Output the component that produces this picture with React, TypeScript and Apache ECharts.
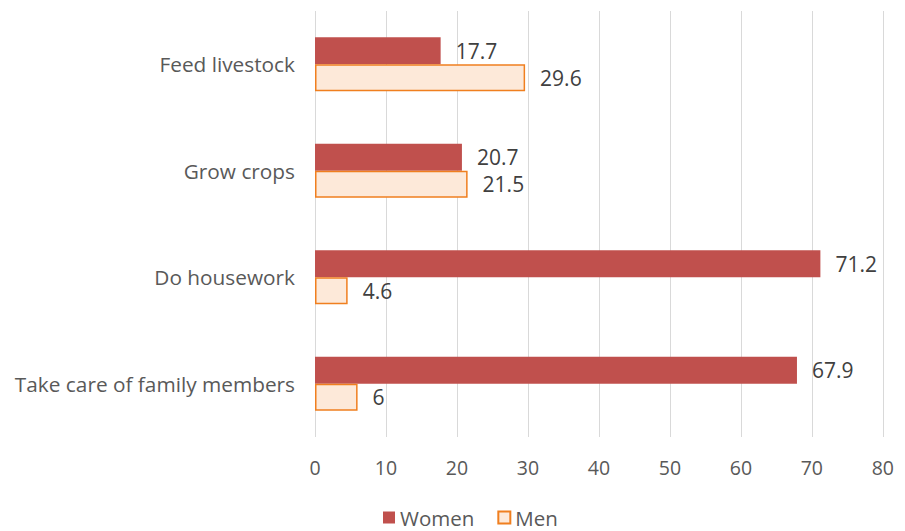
import React, { useEffect, useRef } from "react";
import * as echarts from "echarts";

const categories = ["Feed livestock", "Grow crops", "Do housework", "Take care of family members"];
const women = [17.7, 20.7, 71.2, 67.9];
const men = [29.6, 21.5, 4.6, 6];
const xTicks = { min: 0, max: 80, interval: 10 };

export default function App() {
  const ref = useRef<HTMLDivElement>(null);
  useEffect(() => {
    const chart = echarts.init(ref.current!, null, { renderer: "svg" });
    const font = "'Open Sans', sans-serif";
    chart.setOption({
      animation: false,
      textStyle: { fontFamily: font },
      grid: { left: 307, right: 7, top: 3, bottom: 94, containLabel: false },
      legend: {
        bottom: -2,
        left: 370,
        itemWidth: 12,
        itemHeight: 12,
        itemGap: 23,
        icon: "rect",
        textStyle: { fontSize: 20.5, color: "#595959", fontFamily: font },
        data: ["Women", "Men"],
      },
      xAxis: {
        type: "value",
        min: xTicks.min,
        max: xTicks.max,
        interval: xTicks.interval,
        axisLine: { show: false },
        axisTick: { show: false },
        splitLine: { show: true, lineStyle: { color: "#d9d9d9", width: 1 } },
        axisLabel: { fontSize: 19.5, color: "#595959", margin: 20, fontFamily: font },
      },
      yAxis: {
        type: "category",
        inverse: true,
        data: categories,
        axisLine: { show: false },
        axisTick: { show: false },
        axisLabel: { fontSize: 20.8, color: "#595959", margin: 20, fontFamily: font },
      },
      series: [
        {
          name: "Women",
          type: "bar",
          data: women,
          barWidth: 27,
          barGap: "0%",
          itemStyle: { color: "#c0504d" },
          label: { show: true, position: "right", distance: 15, fontSize: 21, color: "#404040", fontFamily: font },
        },
        {
          name: "Men",
          type: "bar",
          data: men,
          barWidth: 27,
          barGap: "0%",
          itemStyle: { color: "#fde9d9", borderColor: "#f07f1f", borderWidth: 1.5 },
          label: { show: true, position: "right", distance: 15, fontSize: 21, color: "#404040", fontFamily: font },
        },
      ],
    });
    return () => chart.dispose();
  }, []);
  return <div ref={ref} style={{ width: 889, height: 523 }} />;
}
